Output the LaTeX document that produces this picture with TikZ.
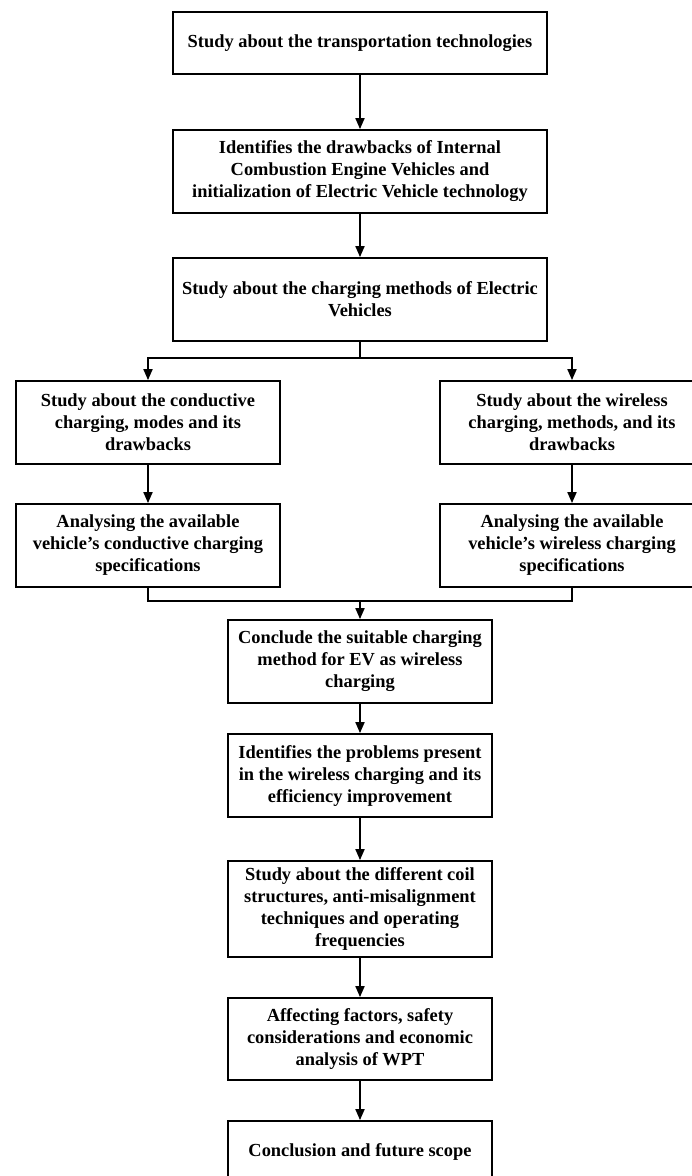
\documentclass[tikz,border=0pt]{standalone}
\usepackage{fontspec}
\setmainfont{Liberation Serif}
\usetikzlibrary{arrows.meta}
\tikzset{
  box/.style={draw, line width=1.8pt, inner sep=0pt, align=center,
    font=\fontsize{18.4}{22}\selectfont\bfseries},
  big/.style={box, minimum width=374pt},
  small/.style={box, minimum width=264pt},
  arr/.style={line width=1.8pt, -{Triangle[length=11pt,width=9pt]}},
  ln/.style={line width=1.8pt}
}
\begin{document}
\begin{tikzpicture}[x=1pt,y=-1pt]
\useasboundingbox (0,0) rectangle (692,1176);
\clip (0,0) rectangle (692,1176);
\node[big, minimum height=62pt] (b1) at (360,43) {Study about the transportation technologies};
\node[big, minimum height=83pt] (b2) at (360,171.5) {Identifies the drawbacks of Internal\\Combustion Engine Vehicles and\\initialization of Electric Vehicle technology};
\node[big, minimum height=83pt] (b3) at (360,299.5) {Study about the charging methods of Electric\\Vehicles};
\node[small, minimum height=83pt] (l1) at (148,422.5) {Study about the conductive\\charging, modes and its\\drawbacks};
\node[small, minimum height=83pt] (r1) at (572,422.5) {Study about the wireless\\charging, methods, and its\\drawbacks};
\node[small, minimum height=83pt] (l2) at (148,545.5) {Analysing the available\\vehicle’s conductive charging\\specifications};
\node[small, minimum height=83pt] (r2) at (572,545.5) {Analysing the available\\vehicle’s wireless charging\\specifications};
\node[small, minimum height=83pt] (c1) at (360,661.5) {Conclude the suitable charging\\method for EV as wireless\\charging};
\node[small, minimum height=83pt] (c2) at (360,775.5) {Identifies the problems present\\in the wireless charging and its\\efficiency improvement};
\node[small, minimum height=96pt] (c3) at (360,909) {Study about the different coil\\structures, anti-misalignment\\techniques and operating\\frequencies};
\node[small, minimum height=82pt] (c4) at (360,1039) {Affecting factors, safety\\considerations and economic\\analysis of WPT};
\node[small, minimum height=62pt] (c5) at (360,1152) {Conclusion and future scope};
\coordinate (j1) at (360,358);
\coordinate (j2) at (360,601);
\draw[arr] (b1) -- (b2);
\draw[arr] (b2) -- (b3);
\draw[ln] (b3.south) -- (j1);
\draw[arr] (j1) -| (l1.north);
\draw[arr] (j1) -| (r1.north);
\draw[arr] (l1) -- (l2);
\draw[arr] (r1) -- (r2);
\draw[ln] (l2.south) |- (j2);
\draw[ln] (r2.south) |- (j2);
\draw[arr] (j2) -- (c1.north);
\draw[arr] (c1) -- (c2);
\draw[arr] (c2) -- (c3);
\draw[arr] (c3) -- (c4);
\draw[arr] (c4) -- (c5);
\end{tikzpicture}
\end{document}
